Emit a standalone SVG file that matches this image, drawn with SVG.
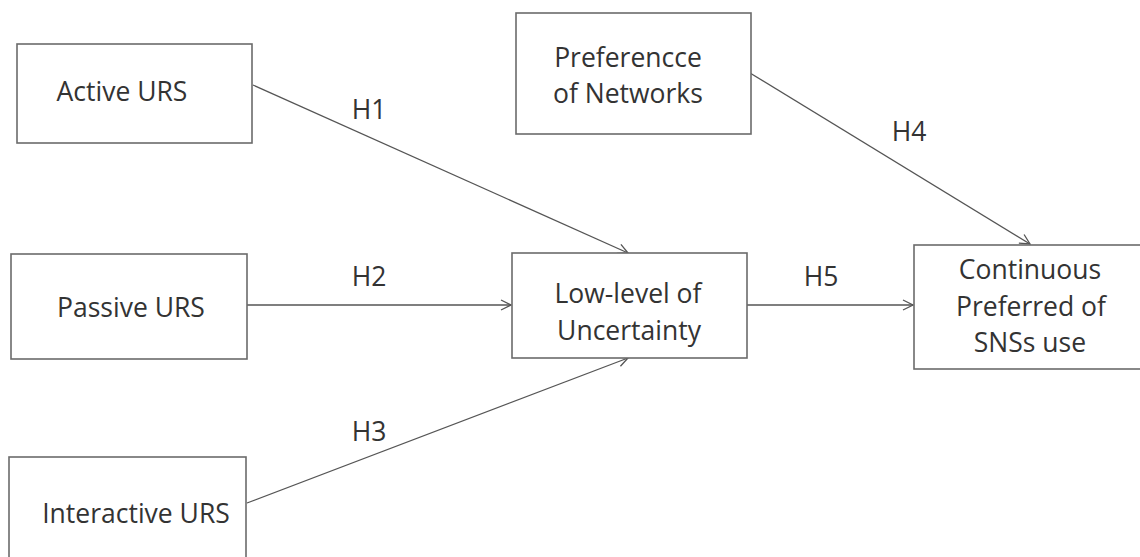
<svg xmlns="http://www.w3.org/2000/svg" width="1140" height="557" viewBox="0 0 1140 557">
<style>
.box{fill:#fff;stroke:#6b6b6b;stroke-width:1.6}
.t{font-family:"Open Sans","Liberation Sans",sans-serif;font-size:26.5px;fill:#333;text-anchor:middle}
.c{fill:none;stroke:#555;stroke-width:1.3}
</style>
<defs>
<marker id="ah" viewBox="0 0 12 12" refX="11" refY="6" markerWidth="12" markerHeight="12" markerUnits="userSpaceOnUse" orient="auto">
<path d="M1,1 L11,6 L1,11" fill="none" stroke="#555" stroke-width="1.3"/>
</marker>
</defs>
<rect width="1140" height="557" fill="#fff"/>
<g id="connectors">
<line class="c" x1="253" y1="85" x2="628" y2="253" marker-end="url(#ah)"/>
<line class="c" x1="247" y1="305" x2="511" y2="305" marker-end="url(#ah)"/>
<line class="c" x1="247" y1="503" x2="628" y2="358" marker-end="url(#ah)"/>
<line class="c" x1="750" y1="73" x2="1030" y2="244" marker-end="url(#ah)"/>
<line class="c" x1="747" y1="305" x2="913" y2="305" marker-end="url(#ah)"/>
<text class="t" x="369" y="119">H1</text>
<text class="t" x="369" y="286">H2</text>
<text class="t" x="369" y="441">H3</text>
<text class="t" x="909" y="141">H4</text>
<text class="t" x="821" y="286">H5</text>
</g>
<g id="active">
<rect class="box" x="17" y="44" width="235" height="99"/>
<text class="t" x="122" y="101">Active URS</text>
</g>
<g id="passive">
<rect class="box" x="11" y="254" width="236" height="105"/>
<text class="t" x="131" y="317">Passive URS</text>
</g>
<g id="interactive">
<rect class="box" x="9" y="457" width="237" height="110"/>
<text class="t" x="136" y="523">Interactive URS</text>
</g>
<g id="preference">
<rect class="box" x="516" y="13" width="235" height="121"/>
<text class="t" x="628" y="67">Preferencce</text>
<text class="t" x="628" y="103">of Networks</text>
</g>
<g id="lowlevel">
<rect class="box" x="512" y="253" width="235" height="105"/>
<text class="t" x="628" y="303">Low-level of</text>
<text class="t" x="629" y="340">Uncertainty</text>
</g>
<g id="continuous">
<rect class="box" x="914" y="245" width="240" height="124"/>
<text class="t" x="1030" y="279">Continuous</text>
<text class="t" x="1031" y="316">Preferred of</text>
<text class="t" x="1030" y="352">SNSs use</text>
</g>
</svg>
